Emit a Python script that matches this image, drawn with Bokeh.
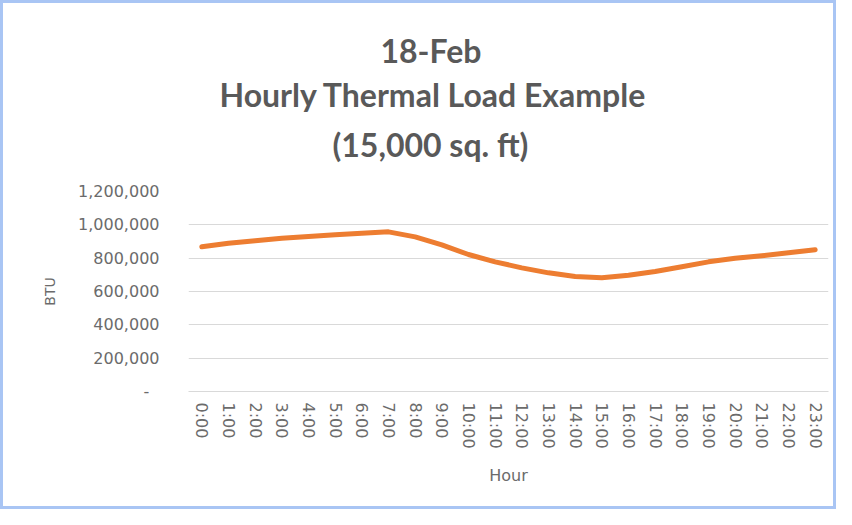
from bokeh.plotting import figure
from bokeh.models import Title, FixedTicker, CustomJSTickFormatter, ColumnDataSource
from bokeh.embed import file_html
from bokeh.resources import INLINE

hours = ["0:00", "1:00", "2:00", "3:00", "4:00", "5:00", "6:00", "7:00", "8:00", "9:00",
         "10:00", "11:00", "12:00", "13:00", "14:00", "15:00", "16:00", "17:00", "18:00",
         "19:00", "20:00", "21:00", "22:00", "23:00"]
btu = [868000, 890000, 905000, 920000, 930000, 940000, 950000, 958000, 928000, 880000,
       822000, 778000, 742000, 712000, 690000, 683000, 698000, 720000, 748000, 778000,
       800000, 815000, 832000, 850000]
y_ticks = [0, 200000, 400000, 600000, 800000, 1000000, 1200000]
title_lines = ["18-Feb", "Hourly Thermal Load Example", "(15,000 sq. ft)"]

TXT = "#595959"
AX = "#6b6b6b"
FONT = "DejaVu Sans"
TFONT = "Lato"

p = figure(x_range=hours, y_range=(0, 1200000), width=836, height=509,
           output_backend="svg", toolbar_location=None,
           min_border_left=185, min_border_right=11, min_border_top=188, min_border_bottom=121)
p.styles = {"border": "3px solid #a9c5f4", "box-sizing": "border-box"}
p.outline_line_color = None
p.background_fill_color = "white"
p.border_fill_color = "white"

src = ColumnDataSource(dict(hour=hours, btu=btu))
p.line("hour", "btu", source=src, line_color="#ed7d31", line_width=5, line_join="round", line_cap="round")

p.xgrid.grid_line_color = None
p.ygrid.grid_line_color = "#d9d9d9"
p.ygrid.grid_line_width = 1

p.yaxis.ticker = FixedTicker(ticks=y_ticks)
p.yaxis.formatter = CustomJSTickFormatter(code="return tick == 0 ? '-  ' : tick.toLocaleString('en-US');")
p.yaxis.axis_line_color = None
p.yaxis.major_tick_line_color = None
p.yaxis.minor_tick_line_color = None
p.yaxis.major_label_standoff = 23
p.yaxis.major_label_text_font = FONT
p.yaxis.major_label_text_font_size = "16px"
p.yaxis.major_label_text_color = AX
p.yaxis.axis_label = "BTU"
p.yaxis.axis_label_text_font = FONT
p.yaxis.axis_label_text_font_size = "14px"
p.yaxis.axis_label_text_font_style = "normal"
p.yaxis.axis_label_text_color = AX
p.yaxis.axis_label_standoff = 17

p.xaxis.axis_line_color = "#d9d9d9"
p.xaxis.major_tick_line_color = None
p.xaxis.minor_tick_line_color = None
p.xaxis.major_label_orientation = "vertical"
p.xaxis.major_label_standoff = 5
p.xaxis.major_label_text_font = FONT
p.xaxis.major_label_text_font_size = "16px"
p.xaxis.major_label_text_color = AX
p.xaxis.axis_label = "Hour"
p.xaxis.axis_label_text_font = FONT
p.xaxis.axis_label_text_font_size = "16px"
p.xaxis.axis_label_text_font_style = "normal"
p.xaxis.axis_label_text_color = AX
p.xaxis.axis_label_standoff = 14

# spacer between frame and the title block
p.add_layout(Title(text=" ", text_font_size="10px", standoff=10), "above")
# titles stack upward from the frame: add the lowest line first
offsets = [192, 31, 144]
standoffs = [0, 7, 10]
for i in [2, 1, 0]:
    p.add_layout(Title(text=title_lines[i], align="left", offset=offsets[i], standoff=standoffs[i],
                       text_font=TFONT, text_font_style="bold", text_font_size="32px",
                       text_color=TXT), "above")

open("out.html", "w").write(file_html(p, INLINE))
